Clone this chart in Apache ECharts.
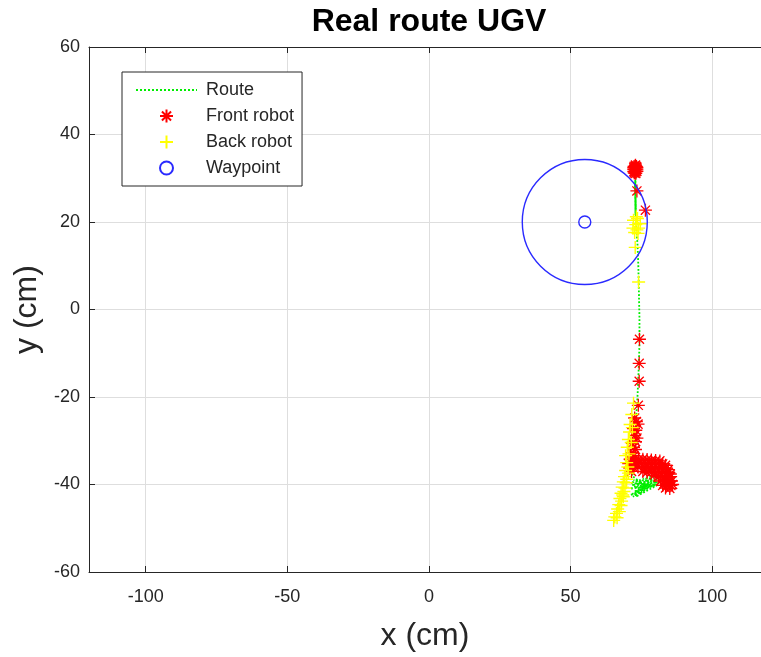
<!DOCTYPE html>
<html>
<head>
<meta charset="utf-8">
<script src="https://cdn.jsdelivr.net/npm/echarts@6/dist/echarts.min.js"></script>
<style>
html,body{margin:0;padding:0;background:#fff;}
#main{width:761px;height:657px;}
</style>
</head>
<body>
<div id="main"></div>
<script>
// ruta del UGV (x, y en cm)
var routePts = [
	[81.2,-39.6],[71.2,-42.4],[80.5,-38.8],[72.0,-42.8],[79.5,-38.4],[71.0,-41.0],[81.0,-40.0],
	[73.0,-42.8],[78.5,-38.2],[71.2,-39.6],[80.0,-40.2],[72.6,-41.6],[79.0,-39.0],[71.6,-40.2],
	[77.0,-38.6],[74.0,-42.2],[78.0,-40.4],[72.2,-39.0],[76.0,-39.4],[75.0,-41.8],[80.6,-39.4],
	[72.8,-40.6],[76.5,-40.8],[74.5,-39.4],[71.6,-38.0],
	[72.0,-36.0],[72.4,-32.0],[72.8,-28.0],[73.2,-24.0],[73.6,-20.0],[74.0,-14.0],[74.3,-8.0],
	[74.3,-2.0],[74.1,4.0],[73.9,10.0],[73.6,15.0],[73.2,18.5],[73.0,21.4],[72.8,29.4],[72.9,21.6],
	[72.7,29.0],[73.0,22.0],[72.8,29.6],[73.1,21.2],[72.8,28.6],[72.9,22.4],[72.9,30.5]
];
// robot delantero
var frontPts = [
	[72.3,31.5],[72.7,31.5],[73.1,31.5],[73.4,31.6],[72.3,32.0],[72.7,31.9],[73.1,32.0],[73.4,32.1],
	[72.3,32.4],[72.7,32.4],[73.1,32.4],[73.4,32.5],[72.4,32.7],[72.8,32.8],[73.2,32.7],[72.5,31.2],
	[73.0,31.1],[72.9,33.0],
	[73.4,27.1],[76.4,22.7],
	[74.3,-6.8],[74.2,-12.3],[74.2,-16.4],[73.9,-21.9],[72.6,-24.8],[73.2,-25.6],[73.8,-26.2],
	[72.2,-27.2],[73.0,-27.6],[72.6,-28.8],[73.4,-29.4],[72.9,-30.2],[71.8,-30.6],[72.2,-31.5],
	[72.9,-32.0],[71.6,-32.8],[72.4,-33.4],
	[71.0,-34.2],[72.5,-34.2],[74.0,-34.2],[75.5,-34.2],[77.0,-34.3],[78.5,-34.4],[80.0,-34.5],[81.5,-34.6],
	[70.5,-35.2],[72.0,-35.2],[73.5,-35.2],[75.0,-35.2],[76.5,-35.2],[78.0,-35.2],[79.5,-35.2],[81.0,-35.2],
	[82.5,-35.3],[83.5,-35.6],
	[70.8,-36.2],[72.3,-36.2],[73.8,-36.0],[76.0,-36.2],[77.5,-36.2],[79.0,-36.2],[80.5,-36.2],[82.0,-36.2],
	[83.5,-36.2],[84.5,-36.6],
	[71.5,-37.0],[75.5,-37.0],[77.0,-37.2],[78.5,-37.2],[80.0,-37.2],[81.5,-37.2],[83.0,-37.2],[84.5,-37.2],
	[85.2,-37.6],[79.5,-37.9],
	[81.0,-38.2],[82.5,-38.2],[84.0,-38.2],[85.3,-38.2],
	[81.8,-39.2],[83.2,-39.2],[84.6,-39.2],[85.6,-39.2],
	[82.5,-40.2],[84.0,-40.2],[85.4,-40.2],[86.0,-40.0],
	[83.5,-40.8],[85.0,-40.9]
];
// robot trasero
var backPts = [
	[72.2,20.4],[73.0,19.4],[74.0,18.6],[72.6,17.6],[73.6,20.8],[74.6,19.6],[72.0,18.6],[73.2,21.2],
	[73.8,17.4],[73.4,18.2],[72.8,14.2],[74.0,6.3],
	[72.2,-21.4],[71.6,-24.0],[71.0,-26.3],[71.8,-27.0],[70.8,-28.0],[70.4,-29.7],[71.4,-30.4],
	[70.0,-31.5],[69.4,-33.4],[70.6,-33.0],[69.8,-35.0],[69.4,-36.8],[70.4,-37.4],[69.0,-38.2],
	[69.8,-38.8],[68.6,-39.4],[68.2,-40.6],[69.2,-40.8],[68.8,-41.6],[67.8,-42.0],[68.6,-42.8],
	[67.4,-43.2],[68.0,-43.8],[67.0,-44.6],[67.8,-44.8],[66.6,-45.6],[67.2,-46.2],[66.2,-46.6],
	[65.6,-47.4],[65.2,-48.2],[66.4,-47.6],[68.4,-42.4],[69.6,-39.6],[70.2,-36.0]
];
// punto de paso
var waypoint = [[55, 20]];
var yTicks = [-60, -40, -20, 0, 20, 40, 60];

var txtColor = '#262626';
var fontName = '"Liberation Sans", Arial, sans-serif';
var asterisk = 'path://M0,-10L0,10M-10,0L10,0M-7,-7L7,7M-7,7L7,-7';
var plus = 'path://M0,-10L0,10M-10,0L10,0';

var myChart = echarts.init(document.getElementById('main'));
var option = {
	animation: false,
	backgroundColor: '#fff',
	title: {
		text: 'Real route UGV',
		left: 429,
		top: 6,
		padding: 0,
		textAlign: 'center',
		textStyle: {fontFamily: fontName, fontSize: 32, fontWeight: 'bold', color: '#000'}
	},
	grid: {left: 89, right: 0, top: 47, bottom: 82, containLabel: false},
	legend: {
		orient: 'vertical',
		left: 122,
		top: 72,
		padding: [9, 8, 9, 13],
		itemGap: 8,
		itemWidth: 61,
		itemHeight: 13,
		backgroundColor: '#fff',
		borderColor: txtColor,
		borderWidth: 1,
		borderRadius: 0,
		textStyle: {fontFamily: fontName, fontSize: 18, color: txtColor, lineHeight: 18, padding: [0, 0, 0, 4]},
		data: [
			{name: 'Route', itemStyle: {opacity: 0}},
			'Front robot',
			'Back robot',
			'Waypoint'
		]
	},
	xAxis: [{
		type: 'value',
		min: -120,
		max: 117.2,
		splitNumber: 5,
		name: 'x (cm)',
		nameLocation: 'middle',
		nameGap: 48,
		nameTextStyle: {fontFamily: fontName, fontSize: 32, color: txtColor},
		axisLine: {show: true, onZero: false, lineStyle: {color: txtColor, width: 1}},
		axisTick: {show: true, inside: true, length: 6, lineStyle: {color: txtColor}},
		axisLabel: {fontFamily: fontName, fontSize: 18, color: txtColor, margin: 16, showMinLabel: false, showMaxLabel: false},
		splitLine: {show: true, lineStyle: {color: '#dedede', width: 1}}
	}, {
		type: 'value',
		position: 'top',
		min: -120,
		max: 117.2,
		splitNumber: 5,
		axisLine: {show: true, onZero: false, lineStyle: {color: txtColor, width: 1}},
		axisTick: {show: true, inside: true, length: 6, lineStyle: {color: txtColor}},
		axisLabel: {show: false},
		splitLine: {show: false}
	}],
	yAxis: {
		type: 'value',
		min: yTicks[0],
		max: yTicks[yTicks.length - 1],
		interval: 20,
		name: 'y (cm)',
		nameLocation: 'middle',
		nameGap: 44,
		nameTextStyle: {fontFamily: fontName, fontSize: 32, color: txtColor},
		axisLine: {show: true, onZero: false, lineStyle: {color: txtColor, width: 1}},
		axisTick: {show: true, inside: true, length: 6, lineStyle: {color: txtColor}},
		axisLabel: {fontFamily: fontName, fontSize: 18, color: txtColor, margin: 9, padding: [4, 0, 0, 0]},
		splitLine: {show: true, lineStyle: {color: '#dedede', width: 1}}
	},
	series: [
		{
			name: 'Route',
			type: 'line',
			data: routePts,
			showSymbol: false,
			symbol: 'none',
			silent: true,
			lineStyle: {color: '#00ee00', width: 1.8, type: 'dotted'},
			itemStyle: {color: '#00ee00'},
			z: 2
		},
		{
			name: 'Front robot',
			type: 'scatter',
			data: frontPts,
			symbol: asterisk,
			symbolSize: 13,
			silent: true,
			itemStyle: {color: 'transparent', borderColor: '#ff0000', borderWidth: 1.3, opacity: 1},
			z: 3
		},
		{
			name: 'Back robot',
			type: 'scatter',
			data: backPts,
			symbol: plus,
			symbolSize: 13,
			silent: true,
			itemStyle: {color: 'transparent', borderColor: '#ffff00', borderWidth: 1.4, opacity: 1},
			z: 4
		},
		{
			name: 'Waypoint',
			type: 'scatter',
			data: waypoint,
			symbol: 'circle',
			symbolSize: 12,
			silent: true,
			itemStyle: {color: 'transparent', borderColor: '#2a2aff', borderWidth: 1.4, opacity: 1},
			z: 5
		},
		{
			name: 'Radius',
			type: 'scatter',
			data: waypoint,
			symbol: 'circle',
			symbolSize: 125,
			silent: true,
			itemStyle: {color: 'transparent', borderColor: '#2a2aff', borderWidth: 1.4, opacity: 1},
			z: 5
		}
	]
};
myChart.setOption(option);
</script>
</body>
</html>
